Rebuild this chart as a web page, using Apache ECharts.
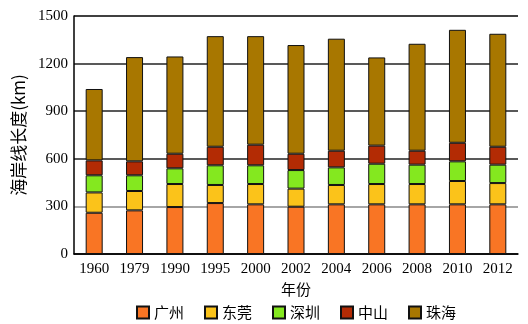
<!DOCTYPE html>
<html><head><meta charset="utf-8">
<script src="https://cdn.jsdelivr.net/npm/echarts@6/dist/echarts.min.js"></script>
<style>html,body{margin:0;padding:0;background:#fff}#c{width:528px;height:324px}</style>
</head><body><div id="c"></div>
<script>
var years = ['1960','1979','1990','1995','2000','2002','2004','2006','2008','2010','2012'];
var seriesNames = ['广州','东莞','深圳','中山','珠海'];
var guangzhou = [260,275,296,321,313,298,313,313,313,313,313];
var dongguan  = [128,122,145,114,128,114,122,128,128,147,134];
var shenzhen  = [108,99,99,124,118,117,111,128,122,124,116];
var zhongshan = [94,88,92,117,130,103,105,114,88,117,113];
var zhuhai    = [450,657,613,697,684,685,706,556,674,712,712];
var colors = ['#F97524','#FBC31A','#84E81F','#B32B04','#A87700'];
var dataList = [guangzhou,dongguan,shenzhen,zhongshan,zhuhai];
var serif = "'Liberation Serif', 'Times New Roman', 'DejaVu Serif', serif";
var cjk = "'Noto Sans CJK SC', sans-serif";
var chart = echarts.init(document.getElementById('c'));
chart.setOption({
  animation:false,
  grid:{left:74,right:10,top:16,bottom:70},
  legend:{
    data:seriesNames, top:300, left:131, itemWidth:12, itemHeight:12, itemGap:20,
    icon:'rect',
    textStyle:{fontFamily:cjk,fontSize:15,color:'#000'}
  },
  xAxis:{
    type:'category', data:years, name:'年份', nameLocation:'middle', nameGap:25,
    nameTextStyle:{fontFamily:cjk,fontSize:15,color:'#000'},
    axisLine:{lineStyle:{color:'#000',width:1.5}},
    axisTick:{show:false},
    axisLabel:{fontFamily:serif,fontSize:15,color:'#000',margin:8,interval:0}
  },
  yAxis:{
    type:'value', min:0, max:1500, interval:300,
    name:'海岸线长度(km)', nameLocation:'middle', nameGap:44, nameRotate:90,
    nameTextStyle:{fontFamily:cjk,fontSize:17,color:'#000'},
    axisLine:{show:true,lineStyle:{color:'#000',width:1.5}},
    axisTick:{show:false},
    axisLabel:{fontFamily:serif,fontSize:15,color:'#000',margin:6,formatter:function(v){return String(v);}},
    splitLine:{show:true,lineStyle:{color:['#000','#888','#222','#222','#222','#000'],width:1.5}}
  },
  series: seriesNames.map(function(n,i){
    return {name:n,type:'bar',stack:'t',data:dataList[i],barWidth:17,
      itemStyle:{color:colors[i],borderColor:'#111',borderWidth:1}};
  })
});
</script></body></html>
